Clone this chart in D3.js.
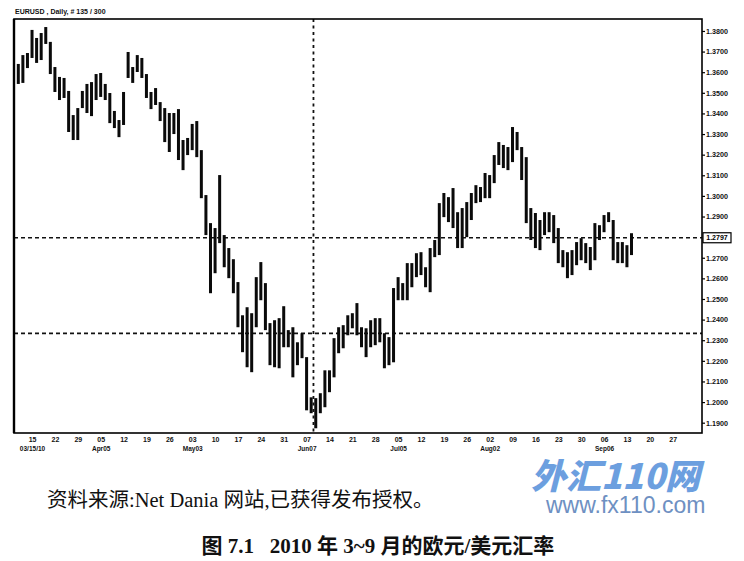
<!DOCTYPE html>
<html><head><meta charset="utf-8">
<script src="https://cdn.jsdelivr.net/npm/d3@7/dist/d3.min.js"></script>
<style>body{margin:0;background:#fff}svg{display:block}</style></head>
<body><svg id="c" width="744" height="561"></svg>
<script>
// Daily EUR/USD bars, 2010-03-10 .. 2010-09-14 (one per trading day)
const highs = [1.3640,1.3683,1.3693,1.3805,1.3766,1.3790,1.3819,1.3747,1.3625,1.3577,
1.3572,1.3509,1.3392,1.3426,1.3509,1.3543,1.3552,1.3591,1.3596,1.3543,
1.3499,1.3412,1.3368,1.3504,1.3698,1.3625,1.3683,1.3669,1.3591,1.3504,
1.3523,1.3455,1.3426,1.3402,1.3402,1.3421,1.3271,1.3281,1.3349,1.3363,
1.3222,1.3004,1.2868,1.2844,1.3101,1.2810,1.2747,1.2693,1.2582,1.2421,
1.2460,1.2431,1.2606,1.2679,1.2577,1.2383,1.2397,1.2407,1.2465,1.2349,
1.2363,1.2290,1.2334,1.2218,1.2023,1.2019,1.2043,1.2154,1.2154,1.2310,
1.2363,1.2373,1.2421,1.2431,1.2480,1.2363,1.2358,1.2397,1.2407,1.2407,
1.2334,1.2315,1.2553,1.2606,1.2577,1.2674,1.2674,1.2722,1.2727,1.2654,
1.2747,1.2786,1.2965,1.3014,1.2994,1.3038,1.2921,1.2941,1.2970,1.3014,
1.3052,1.3043,1.3111,1.3101,1.3198,1.3261,1.3247,1.3237,1.3334,1.3310,
1.3237,1.3188,1.2941,1.2917,1.2883,1.2921,1.2921,1.2907,1.2844,1.2737,
1.2727,1.2737,1.2776,1.2795,1.2771,1.2752,1.2868,1.2858,1.2907,1.2921,
1.2883,1.2776,1.2776,1.2761,1.2819];
const lows = [1.3543,1.3548,1.3620,1.3669,1.3645,1.3659,1.3737,1.3591,1.3504,1.3465,
1.3475,1.3310,1.3271,1.3271,1.3426,1.3402,1.3387,1.3465,1.3480,1.3465,
1.3353,1.3329,1.3285,1.3344,1.3572,1.3548,1.3601,1.3572,1.3475,1.3421,
1.3441,1.3363,1.3261,1.3213,1.3300,1.3174,1.3125,1.3198,1.3222,1.3188,
1.2989,1.2810,1.2528,1.2625,1.2771,1.2654,1.2601,1.2528,1.2363,1.2242,
1.2169,1.2145,1.2363,1.2494,1.2349,1.2179,1.2169,1.2164,1.2266,1.2266,
1.2120,1.2179,1.2213,1.1960,1.1946,1.1873,1.1946,1.1975,1.2048,1.2120,
1.2237,1.2261,1.2324,1.2358,1.2324,1.2266,1.2218,1.2266,1.2276,1.2290,
1.2164,1.2179,1.2193,1.2494,1.2494,1.2494,1.2557,1.2606,1.2616,1.2557,
1.2533,1.2703,1.2713,1.2897,1.2873,1.2844,1.2747,1.2747,1.2800,1.2883,
1.2965,1.2970,1.2989,1.2989,1.3062,1.3150,1.3135,1.3125,1.3164,1.3222,
1.3077,1.2868,1.2786,1.2747,1.2737,1.2810,1.2824,1.2771,1.2674,1.2654,
1.2601,1.2616,1.2664,1.2688,1.2674,1.2640,1.2688,1.2786,1.2824,1.2873,
1.2688,1.2674,1.2674,1.2654,1.2713];

const priceTicks = [1.38,1.37,1.36,1.35,1.34,1.33,1.32,1.31,1.30,1.29,1.27,1.26,1.25,1.24,1.23,1.22,1.21,1.20,1.19];
const weekTickIdx = [3,8,13,18,23,28,33,38,43,48,53,58,63,68,73,78,83,88,93,98,103,108,113,118,123,128,133,138,143];
const weekTickLabels = ["15","22","29","05","12","19","26","03","10","17","24","31","07","14","21","28","05","12","19","26","02","09","16","23","30","06","13","20","27"];
const monthTickIdx = [3,18,38,63,83,103,128];
const monthLabels = ["03/15/10","Apr05","May03","Jun07","Jul05","Aug02","Sep06"];
const lastPrice = 1.2797;
const supportLevel = 1.2333;
const markerIdx = 64.5;
const chartTitle = "EURUSD , Daily, # 135 / 300";
const sourceText = "资料来源:Net Dania 网站,已获得发布授权。";
const captionText = "图 7.1   2010 年 3~9 月的欧元/美元汇率";

const svg = d3.select("#c");
const L = 14, R = 702, T = 19, B = 433;
const x = d3.scaleLinear().domain([0, 134]).range([18.3, 631.5]);
const y = d3.scaleLinear().domain([1.1850, 1.3858]).range([B, T]);
const tiny = "'Liberation Sans', Arial, sans-serif";

// title
svg.append("text").attr("x", 15).attr("y", 14).attr("font-family", tiny)
  .attr("font-size", 7).attr("font-weight", "bold").attr("fill", "#111").text(chartTitle);

// dashed reference lines
const g = svg.append("g");
g.append("line").attr("x1", L).attr("x2", R).attr("y1", y(lastPrice)).attr("y2", y(lastPrice))
  .attr("stroke", "#111").attr("stroke-width", 1.6).attr("stroke-dasharray", "4,3");
g.append("line").attr("x1", L).attr("x2", R).attr("y1", y(supportLevel)).attr("y2", y(supportLevel))
  .attr("stroke", "#111").attr("stroke-width", 1.6).attr("stroke-dasharray", "4,3");
g.append("line").attr("x1", x(markerIdx)).attr("x2", x(markerIdx)).attr("y1", T).attr("y2", B)
  .attr("stroke", "#111").attr("stroke-width", 1.8).attr("stroke-dasharray", "3,3.5");

// bars
g.selectAll("rect.bar").data(highs).join("rect").attr("class", "bar")
  .attr("x", (d, i) => x(i) - 1.5).attr("width", 3)
  .attr("y", d => y(d)).attr("height", (d, i) => y(lows[i]) - y(d))
  .attr("fill", "#0a0a0a");

// frame
svg.append("rect").attr("x", L).attr("y", T).attr("width", R - L).attr("height", B - T)
  .attr("fill", "none").attr("stroke", "#000").attr("stroke-width", 1.6);
svg.append("line").attr("x1", L).attr("x2", L).attr("y1", T).attr("y2", B)
  .attr("stroke", "#000").attr("stroke-width", 2.4);

// right axis
const ya = svg.append("g").attr("transform", `translate(${R},0)`)
  .call(d3.axisRight(y).tickValues(priceTicks).tickSize(3).tickPadding(1).tickFormat(d3.format(".4f")));
ya.select(".domain").remove();
ya.selectAll("line").attr("stroke", "#000").attr("stroke-width", 1.2);
ya.selectAll("text").attr("font-family", tiny).attr("font-size", 7.2).attr("font-weight", "bold").attr("fill", "#111");

// last price box
const bx = svg.append("g").attr("transform", `translate(${R + 1},${y(lastPrice)})`);
bx.append("rect").attr("x", 0).attr("y", -5).attr("width", 28).attr("height", 10)
  .attr("fill", "#fff").attr("stroke", "#000").attr("stroke-width", 1.2);
bx.append("text").attr("x", 14).attr("y", 2.5).attr("text-anchor", "middle").attr("font-family", tiny)
  .attr("font-size", 7).attr("font-weight", "bold").text(d3.format(".4f")(lastPrice));

// bottom axis: days
const xa = svg.append("g").attr("transform", `translate(0,${B})`)
  .call(d3.axisBottom(x).tickValues(weekTickIdx).tickSize(0).tickPadding(4).tickFormat((d, i) => weekTickLabels[i]));
xa.select(".domain").remove();
xa.selectAll("text").attr("font-family", tiny).attr("font-size", 7).attr("font-weight", "bold").attr("fill", "#111");
// bottom axis: months
const xm = svg.append("g").attr("transform", `translate(0,${B + 10})`)
  .call(d3.axisBottom(x).tickValues(monthTickIdx).tickSize(0).tickPadding(3).tickFormat((d, i) => monthLabels[i]));
xm.select(".domain").remove();
xm.selectAll("text").attr("font-family", tiny).attr("font-size", 6.5).attr("font-weight", "bold").attr("fill", "#111");

// watermark
svg.append("text").attr("x", 531).attr("y", 489).attr("font-family", "'Noto Sans CJK SC', sans-serif")
  .attr("font-size", 35).attr("font-weight", "900").attr("font-style", "italic")
  .attr("fill", "#5d95dc").attr("opacity", 0.9).text("外汇110网");
svg.append("text").attr("x", 546).attr("y", 513).attr("font-family", tiny)
  .attr("font-size", 23).attr("fill", "#6e90c2").text("www.fx110.com");

// source & caption
svg.append("text").attr("x", 47).attr("y", 507)
  .attr("font-family", "'Liberation Serif', 'Noto Sans CJK SC', serif")
  .attr("font-size", 20.5).attr("fill", "#111").text(sourceText);
svg.append("text").attr("x", 378).attr("y", 553).attr("text-anchor", "middle")
  .attr("font-family", "'Liberation Serif', 'Noto Sans CJK SC', serif")
  .attr("font-size", 21).attr("font-weight", "bold").attr("fill", "#111")
  .attr("xml:space", "preserve").style("white-space", "pre").text(captionText);
</script>
</body></html>
